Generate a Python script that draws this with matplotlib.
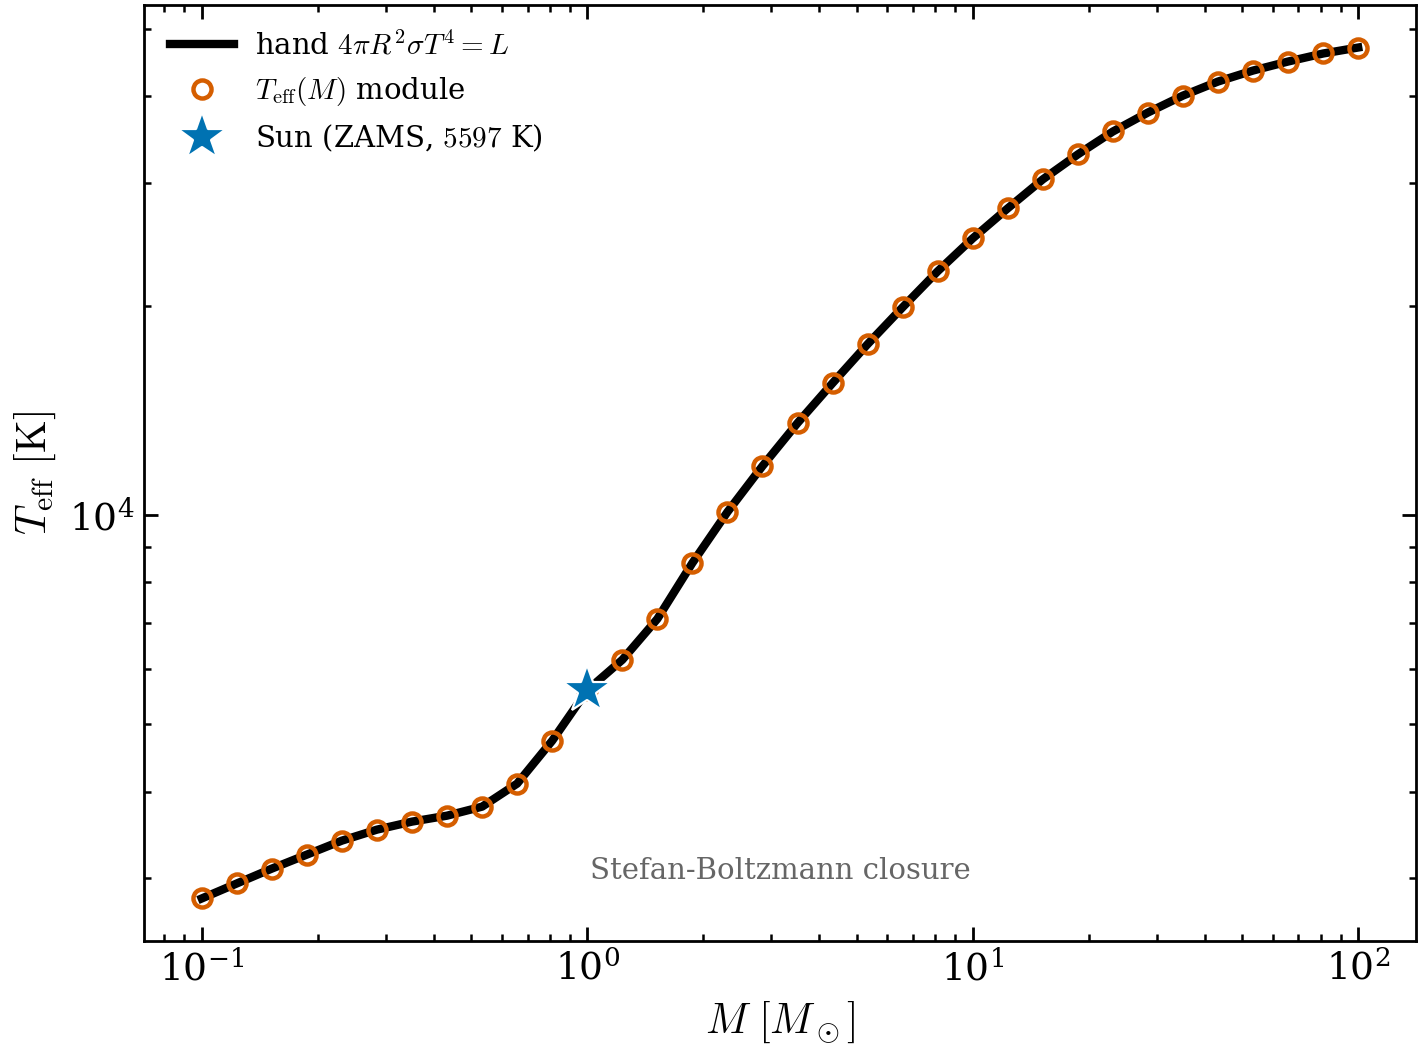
import numpy as np
import matplotlib
matplotlib.use("Agg")
import matplotlib.pyplot as plt

plt.rcParams['font.family'] = ['DejaVu Serif']
plt.rcParams['mathtext.fontset'] = 'cm'

# stellar masses (Msun), 11 per decade from 0.1 to 100
mass = np.logspace(-1, 2, 34)

# effective temperature (K)
teff = [2808, 2951, 3100, 3247, 3401, 3527, 3622, 3694, 3806, 4108,
        4735, 5597, 6190, 7088, 8531, 10100, 11760, 13561, 15478, 17610,
        19900, 22420, 25003, 27620, 30400, 33020, 35620, 37930, 40120, 42030,
        43590, 44910, 46120, 47040]

sun_mass = 1.0
sun_teff = 5597

fig = plt.figure(figsize=(7.105, 5.305), dpi=200)
ax = fig.add_axes([0.1013, 0.1131, 0.8952, 0.8822])

ax.plot(mass, teff, color='black', lw=3.0, label=r'hand $4\pi R^2\sigma T^4=L$', zorder=2)
ax.plot(mass, teff, ls='none', marker='o', ms=6.5, mfc='none', mec='#D55E00', mew=1.6,
        label=r'$T_{\rm eff}(M)$ module', zorder=3)
ax.plot([sun_mass], [sun_teff], ls='none', marker='*', ms=18, color='#0072B2',
        mec='white', mew=0.8, label=r'Sun (ZAMS, $5597$ K)', zorder=4)

ax.set_xscale('log')
ax.set_yscale('log')
ax.set_xlabel(r'$M\ [M_\odot]$', fontsize=15.2)
ax.set_ylabel(r'$T_{\rm eff}\ [{\rm K}]$', fontsize=15.2)

ax.tick_params(which='both', direction='in', top=True, right=True, labelsize=13.5)
ax.tick_params(which='major', length=5, width=1.0)
ax.tick_params(which='minor', length=2.6, width=0.9)
for s in ax.spines.values():
    s.set_linewidth(1.0)

ax.text(0.5, 0.06, 'Stefan-Boltzmann closure', transform=ax.transAxes,
        ha='center', va='bottom', fontsize=10.5, color='0.4')

ax.legend(loc='upper left', frameon=False, fontsize=10.5, handlelength=2.2,
          handletextpad=0.7)

fig.savefig('out.png', dpi=200)
